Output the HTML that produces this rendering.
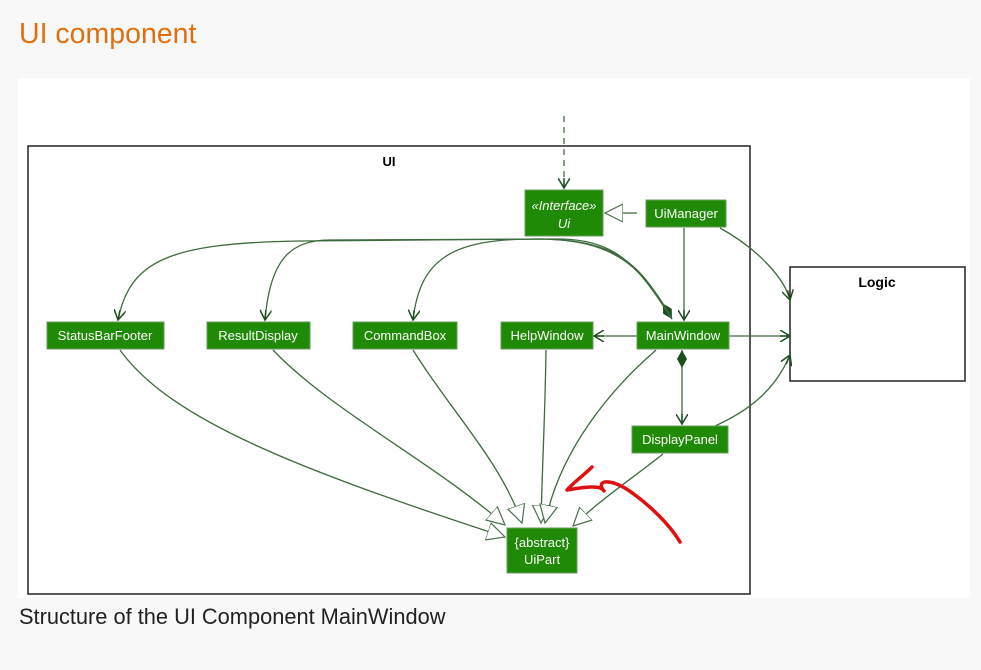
<!DOCTYPE html>
<html><head><style>
body{margin:0;width:981px;height:670px;background:#f8f8f8;font-family:"Liberation Sans",sans-serif;overflow:hidden}
.t{position:absolute;left:19px;top:18px;font-size:28.5px;color:#e0700f}
.c{position:absolute;left:19px;top:604px;font-size:21.8px;color:#222}
svg{position:absolute;left:0;top:0}
</style></head><body>
<div class="t">UI component</div>
<svg width="981" height="670" font-family="Liberation Sans, sans-serif">
<defs>
<marker id="a" markerWidth="12" markerHeight="12" refX="10" refY="6" orient="auto" markerUnits="userSpaceOnUse"><path d="M0,0 L10,6 L0,12 M10,6 L0,6" fill="none" stroke="#1e4d1e" stroke-width="1.5"/></marker>
<marker id="d" markerWidth="20" markerHeight="12" refX="18" refY="6" orient="auto-start-reverse" markerUnits="userSpaceOnUse"><path d="M0,6 L9,1 L18,6 L9,11 Z" fill="#1e4d1e"/></marker>
<marker id="g" markerWidth="20" markerHeight="20" refX="18" refY="10" orient="auto" markerUnits="userSpaceOnUse"><path d="M0,1 L18,10 L0,19 Z" fill="#fff" stroke="#4a6f4a" stroke-width="1.2"/></marker>
</defs>
<rect x="18" y="78" width="952" height="520" fill="#fff"/>
<rect x="28" y="146" width="722" height="448" fill="none" stroke="#222" stroke-width="1.5"/>
<text x="389" y="166" font-size="13" font-weight="bold" text-anchor="middle">UI</text>
<rect x="790" y="267" width="175" height="114" fill="#fff" stroke="#222" stroke-width="1.5"/>
<text x="877" y="287" font-size="14" font-weight="bold" text-anchor="middle">Logic</text>
<g fill="none" stroke="#3d6b3d" stroke-width="1.3">
<path d="M564,116 L564,188" stroke-dasharray="6,5" marker-end="url(#a)"/>
<path d="M637,213 L605,213" marker-end="url(#g)"/>
<path d="M684,228 L684,320" marker-end="url(#a)"/>
<path d="M720,228 C760,250 785,280 790,300" marker-end="url(#a)"/>
<path d="M729,336 L790,336" marker-end="url(#a)"/>
<path d="M715,426 C750,410 775,390 790,355" marker-end="url(#a)"/>
<path d="M637,336 L594,336" marker-end="url(#a)"/>
<path d="M682,350 L682,424" marker-start="url(#d)" marker-end="url(#a)"/>
<path d="M672,319 C640,265 620,240 540,239 L300,241 C170,243 130,260 118,320" marker-start="url(#d)" marker-end="url(#a)"/>
<path d="M672,319 C640,270 620,240 560,239 L330,240 C290,240 270,260 265,320" marker-end="url(#a)"/>
<path d="M672,319 C640,262 610,240 540,239 C450,238 420,260 413,320" marker-end="url(#a)"/>
<path d="M120,350 C170,420 300,470 505,537" marker-end="url(#g)"/>
<path d="M273,350 C330,410 430,460 505,525" marker-end="url(#g)"/>
<path d="M413,350 C450,410 500,460 522,523" marker-end="url(#g)"/>
<path d="M546,350 C545,420 542,470 541,523" marker-end="url(#g)"/>
<path d="M656,350 C610,390 560,450 545,523" marker-end="url(#g)"/>
<path d="M663,454 C630,480 600,500 573,526" marker-end="url(#g)"/>
</g>
<g fill="#1e8a05" stroke="#6a9b5c" stroke-width="1">
<rect x="525" y="190" width="78" height="46"/>
<rect x="646" y="200" width="80" height="27"/>
<rect x="47" y="322" width="117" height="27"/>
<rect x="207" y="322" width="103" height="27"/>
<rect x="353" y="322" width="104" height="27"/>
<rect x="501" y="322" width="92" height="27"/>
<rect x="637" y="322" width="92" height="27"/>
<rect x="632" y="426" width="96" height="27"/>
<rect x="507" y="528" width="70" height="45"/>
</g>
<g fill="#fff" font-size="13" text-anchor="middle">
<text x="564" y="210" font-style="italic">«Interface»</text>
<text x="564" y="228" font-style="italic">Ui</text>
<text x="686" y="218">UiManager</text>
<text x="105" y="340">StatusBarFooter</text>
<text x="258" y="340">ResultDisplay</text>
<text x="405" y="340">CommandBox</text>
<text x="547" y="340">HelpWindow</text>
<text x="683" y="340">MainWindow</text>
<text x="680" y="444">DisplayPanel</text>
<text x="542" y="547">{abstract}</text>
<text x="542" y="564">UiPart</text>
</g>
<path d="M592,467 C584,475 573,483 567,490 C580,488 600,484 604,491 C595,480 610,478 628,490 C650,505 670,525 680,542" fill="none" stroke="#e01010" stroke-width="3.5" stroke-linecap="round" stroke-linejoin="round"/>
</svg>
<div class="c">Structure of the UI Component MainWindow</div>
</body></html>
